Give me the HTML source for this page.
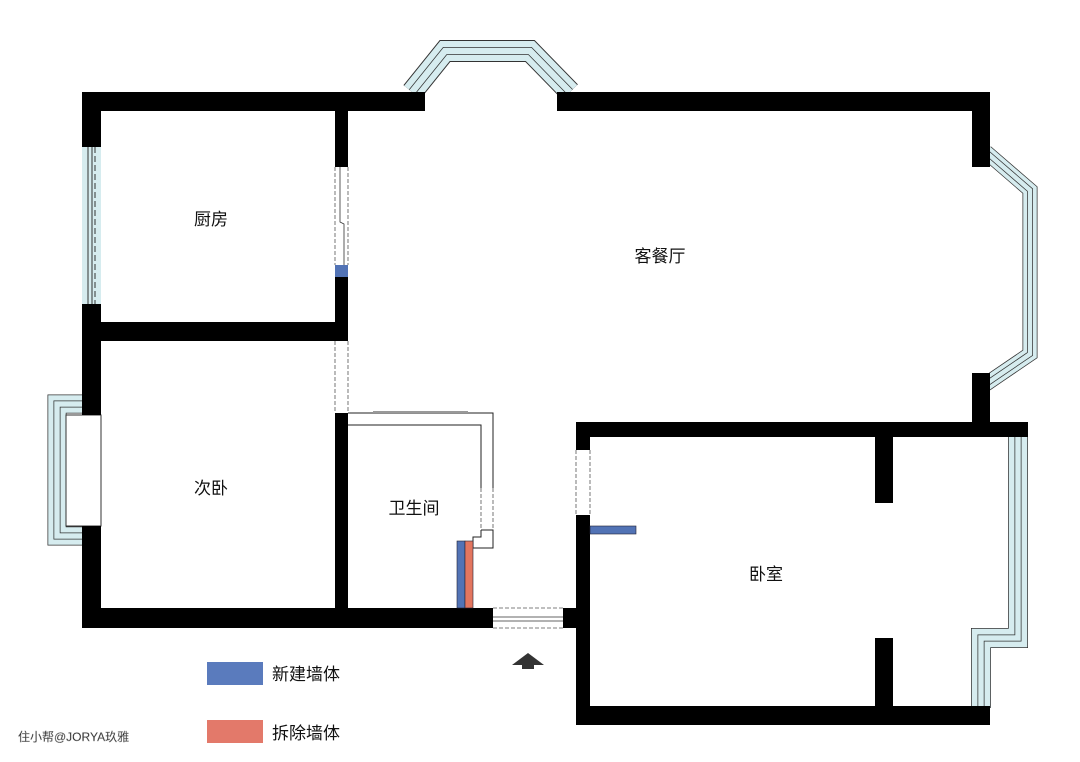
<!DOCTYPE html>
<html><head><meta charset="utf-8"><style>
html,body{margin:0;padding:0;background:#fff}
svg{display:block}
text{font-family:"Liberation Sans","Noto Sans CJK SC",sans-serif;fill:#111}
</style></head><body>
<svg width="1080" height="762" viewBox="0 0 1080 762" xmlns="http://www.w3.org/2000/svg">
<rect width="1080" height="762" fill="#fff"/>
<!-- bay windows -->
<g fill="none" stroke-linejoin="miter">
  <polyline points="412,92 445,51 530,51 570,92" stroke="#333" stroke-width="22"/>
  <polyline points="412,92 445,51 530,51 570,92" stroke="#d6ecef" stroke-width="20"/>
  <polyline points="412,92 445,51 530,51 570,92" stroke="#333" stroke-width="8"/>
  <polyline points="412,92 445,51 530,51 570,92" stroke="#d6ecef" stroke-width="6.5"/>

  <polyline points="986,152 1030,190 1030,354 986,384" stroke="#333" stroke-width="15"/>
  <polyline points="986,152 1030,190 1030,354 986,384" stroke="#d6ecef" stroke-width="13.5"/>
  <polyline points="986,152 1030,190 1030,354 986,384" stroke="#333" stroke-width="6"/>
  <polyline points="986,152 1030,190 1030,354 986,384" stroke="#d6ecef" stroke-width="4.5"/>

  <polyline points="1018,437 1018,638 981,638 981,708" stroke="#333" stroke-width="20"/>
  <polyline points="1018,437 1018,638 981,638 981,708" stroke="#d6ecef" stroke-width="18.5"/>
  <polyline points="1018,437 1018,638 981,638 981,708" stroke="#333" stroke-width="7"/>
  <polyline points="1018,437 1018,638 981,638 981,708" stroke="#d6ecef" stroke-width="5.5"/>

  <polyline points="90,404 57,404 57,536 90,536" stroke="#333" stroke-width="19"/>
  <polyline points="90,404 57,404 57,536 90,536" stroke="#d6ecef" stroke-width="17.5"/>
  <polyline points="90,404 57,404 57,536 90,536" stroke="#333" stroke-width="7"/>
  <polyline points="90,404 57,404 57,536 90,536" stroke="#d6ecef" stroke-width="5.5"/>
</g>
<rect x="66" y="415" width="35" height="111" fill="#fff" stroke="#333" stroke-width="1"/>
<!-- kitchen window -->
<rect x="82" y="147" width="19" height="157" fill="#d6ecef"/>
<line x1="88" y1="147" x2="88" y2="304" stroke="#333" stroke-width="1"/>
<line x1="92" y1="147" x2="92" y2="304" stroke="#333" stroke-width="1"/>
<line x1="95" y1="147" x2="95" y2="304" stroke="#333" stroke-width="1" stroke-dasharray="6,3"/>
<!-- walls -->
<g fill="#000">
  <rect x="82" y="92" width="343" height="19"/>
  <rect x="557" y="92" width="433" height="19"/>
  <rect x="82" y="92" width="19" height="55"/>
  <rect x="82" y="304" width="19" height="111"/>
  <rect x="82" y="526" width="19" height="102"/>
  <rect x="335" y="111" width="13" height="56"/>
  <rect x="335" y="277" width="13" height="64"/>
  <rect x="82" y="322" width="266" height="19"/>
  <rect x="335" y="413" width="13" height="215"/>
  <rect x="82" y="608" width="411" height="20"/>
  <rect x="563" y="608" width="27" height="20"/>
  <rect x="576" y="422" width="14" height="28"/>
  <rect x="576" y="515" width="14" height="210"/>
  <rect x="576" y="422" width="452" height="15"/>
  <rect x="576" y="706" width="414" height="19"/>
  <rect x="875" y="437" width="18" height="66"/>
  <rect x="875" y="638" width="18" height="68"/>
  <rect x="972" y="92" width="18" height="75"/>
  <rect x="972" y="373" width="18" height="49"/>
</g>
<!-- doors dashed -->
<g fill="none" stroke="#555" stroke-width="0.8" stroke-dasharray="4,2">
  <line x1="335" y1="167" x2="335" y2="265"/><line x1="348" y1="167" x2="348" y2="265"/>
  <line x1="335" y1="341" x2="335" y2="413"/><line x1="348" y1="341" x2="348" y2="413"/>
  <line x1="576" y1="450" x2="576" y2="515"/><line x1="590" y1="450" x2="590" y2="515"/>
  <line x1="493" y1="608" x2="563" y2="608"/><line x1="493" y1="628" x2="563" y2="628"/>
  <line x1="481" y1="488" x2="481" y2="530"/><line x1="493" y1="488" x2="493" y2="530"/>
</g>
<polyline points="340,167 340,222 344,224 344,265" fill="none" stroke="#333" stroke-width="0.8"/>
<line x1="493" y1="617" x2="563" y2="617" stroke="#333" stroke-width="0.8"/>
<line x1="493" y1="621" x2="563" y2="621" stroke="#333" stroke-width="0.8"/>
<rect x="335" y="265" width="13" height="12" fill="#5273b5"/>
<!-- bathroom thin walls -->
<g fill="none" stroke="#222" stroke-width="1">
  <polyline points="348,413 493,413 493,488"/>
  <polyline points="348,425 481,425 481,488"/>
  <polyline points="481,530 481,537 473,537 473,548 493,548 493,530 481,530"/>
</g>
<rect x="373" y="411" width="95" height="2" fill="#999"/>
<rect x="457" y="541" width="8" height="67" fill="#5273b5" stroke="#223" stroke-width="0.6"/>
<rect x="465" y="541" width="8" height="67" fill="#e3765f" stroke="#223" stroke-width="0.6"/>
<rect x="590" y="526" width="46" height="8" fill="#5273b5" stroke="#223" stroke-width="0.6"/>
<!-- arrow -->
<polygon points="528,653 544,665 534,665 534,669 522,669 522,665 512,665" fill="#333"/>
<!-- labels -->
<text x="211" y="225" font-size="17" text-anchor="middle">厨房</text>
<text x="660" y="262" font-size="17" text-anchor="middle">客餐厅</text>
<text x="211" y="494" font-size="17" text-anchor="middle">次卧</text>
<text x="414" y="514" font-size="17" text-anchor="middle">卫生间</text>
<text x="766" y="580" font-size="17" text-anchor="middle">卧室</text>
<!-- legend -->
<rect x="207" y="662" width="56" height="23" fill="#5a7bbd"/>
<text x="272" y="680" font-size="17" fill="#222">新建墙体</text>
<rect x="207" y="720" width="56" height="23" fill="#e3796a"/>
<text x="272" y="739" font-size="17" fill="#222">拆除墙体</text>
<text x="18" y="741" font-size="12" fill="#ddd" stroke="#aaa" stroke-width="0.4">住小帮@JORYA玖雅</text>
</svg>
</body></html>
